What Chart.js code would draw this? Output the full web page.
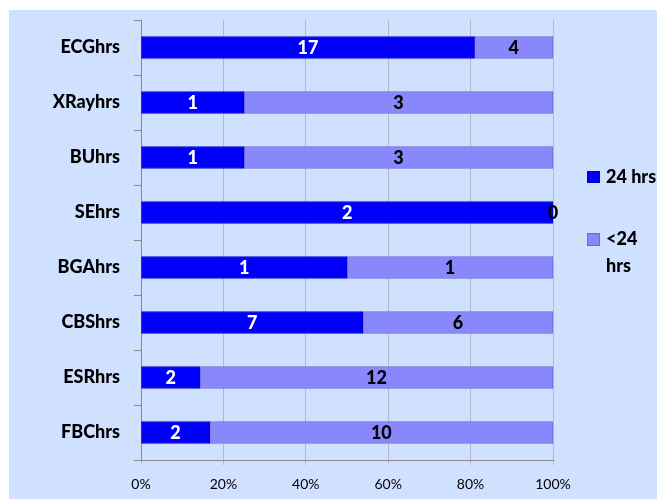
<!DOCTYPE html>
<html>
<head>
<meta charset="utf-8">
<script src="https://cdn.jsdelivr.net/npm/chart.js@4.4.1/dist/chart.umd.min.js"></script>
<style>
  html, body { margin: 0; padding: 0; background: #ffffff; overflow: hidden; }
  #wrap { width: 657px; height: 499px; position: relative; }
</style>
</head>
<body>
<div id="wrap"><canvas id="c" width="657" height="499"></canvas></div>
<script>
// Turnaround counts per test
const categories = ['ECGhrs', 'XRayhrs', 'BUhrs', 'SEhrs', 'BGAhrs', 'CBShrs', 'ESRhrs', 'FBChrs'];
const within24 = [17, 1, 1, 2, 1, 7, 2, 2];
const over24 = [4, 3, 3, 0, 1, 6, 12, 10];
const seriesNames = ['24 hrs', '<24 hrs'];
const xTickLabels = ['0%', '20%', '40%', '60%', '80%', '100%'];

const FONT = 'Lato, "Open Sans", sans-serif';
const DARK = '#0000fa';
const LIGHT = '#8888fc';

// Share of each row, so every bar fills 100%
const totals = categories.map((_, i) => within24[i] + over24[i]);
const pct = arr => arr.map((v, i) => totals[i] ? v / totals[i] * 100 : 0);

const panelBg = {
  id: 'panelBg',
  beforeDraw(chart) {
    const ctx = chart.ctx;
    ctx.save();
    ctx.fillStyle = '#ffffff';
    ctx.fillRect(0, 0, chart.width, chart.height);
    ctx.fillStyle = '#d0e0ff';
    ctx.fillRect(9, 10, 648, 489);
    ctx.restore();
  }
};

// Count labels centred in each segment
const segLabels = {
  id: 'segLabels',
  afterDatasetsDraw(chart) {
    const ctx = chart.ctx;
    ctx.save();
    ctx.font = '900 18px ' + FONT;
    ctx.textAlign = 'center';
    ctx.textBaseline = 'middle';
    chart.data.datasets.forEach((ds, di) => {
      const meta = chart.getDatasetMeta(di);
      meta.data.forEach((bar, i) => {
        const raw = ds.counts[i];
        const cx = (bar.x + bar.base) / 2;
        ctx.fillStyle = di === 0 ? '#ffffff' : '#000000';
        ctx.fillText(String(raw), cx, bar.y + 1);
      });
    });
    ctx.restore();
  }
};

// Legend block on the right
const sideLegend = {
  id: 'sideLegend',
  afterDraw(chart) {
    const ctx = chart.ctx;
    const ds = chart.data.datasets;
    ctx.save();
    ctx.font = '900 18px ' + FONT;
    ctx.textBaseline = 'middle';
    ctx.textAlign = 'left';
    // first entry
    ctx.fillStyle = ds[0].backgroundColor;
    ctx.fillRect(587, 171, 13, 12);
    ctx.strokeStyle = ds[0].borderColor;
    ctx.lineWidth = 1;
    ctx.strokeRect(587.5, 171.5, 12, 11);
    ctx.fillStyle = '#000000';
    ctx.fillText(seriesNames[0], 606, 177);
    // second entry, wrapped over two lines
    ctx.fillStyle = ds[1].backgroundColor;
    ctx.fillRect(587, 233, 13, 13);
    ctx.strokeStyle = ds[1].borderColor;
    ctx.strokeRect(587.5, 233.5, 12, 12);
    ctx.fillStyle = '#000000';
    const parts = seriesNames[1].split(' ');
    ctx.fillText(parts[0], 606, 239);
    ctx.fillText(parts[1], 606, 266);
    ctx.restore();
  }
};

new Chart(document.getElementById('c'), {
  type: 'bar',
  data: {
    labels: categories,
    datasets: [
      {
        label: seriesNames[0],
        data: pct(within24),
        counts: within24,
        backgroundColor: DARK,
        borderColor: '#0000c8',
        borderWidth: 1,
        borderSkipped: false
      },
      {
        label: seriesNames[1],
        data: pct(over24),
        counts: over24,
        backgroundColor: LIGHT,
        borderColor: '#6a6ad6',
        borderWidth: 1,
        borderSkipped: false
      }
    ]
  },
  options: {
    indexAxis: 'y',
    responsive: false,
    animation: false,
    devicePixelRatio: 1,
    layout: { padding: { left: 0, right: 104, top: 20, bottom: 0 } },
    plugins: {
      legend: { display: false },
      tooltip: { enabled: false }
    },
    datasets: { bar: { barThickness: 22 } },
    scales: {
      x: {
        stacked: true,
        min: 0,
        max: 100,
        afterFit(scale) {
          scale.height = 39;
          scale.paddingLeft = 0;
          scale.paddingRight = 0;
        },
        ticks: {
          stepSize: 20,
          padding: 11,
          color: '#000000',
          font: { family: FONT, size: 14 },
          callback: (v, i) => xTickLabels[i]
        },
        grid: {
          color: '#b4b8c4',
          lineWidth: 1,
          tickLength: 5,
          drawTicks: true
        },
        border: { color: '#8a8a8a', width: 1 }
      },
      y: {
        stacked: true,
        afterFit(scale) {
          scale.width = 141;
          scale.paddingTop = 0;
          scale.paddingBottom = 0;
        },
        ticks: {
          padding: 14,
          color: '#000000',
          font: { family: FONT, size: 18, weight: '900' }
        },
        grid: {
          offset: true,
          drawOnChartArea: false,
          color: '#8a8a8a',
          tickLength: 7
        },
        border: { color: '#8a8a8a', width: 1 }
      }
    }
  },
  plugins: [panelBg, segLabels, sideLegend]
});
</script>
</body>
</html>
